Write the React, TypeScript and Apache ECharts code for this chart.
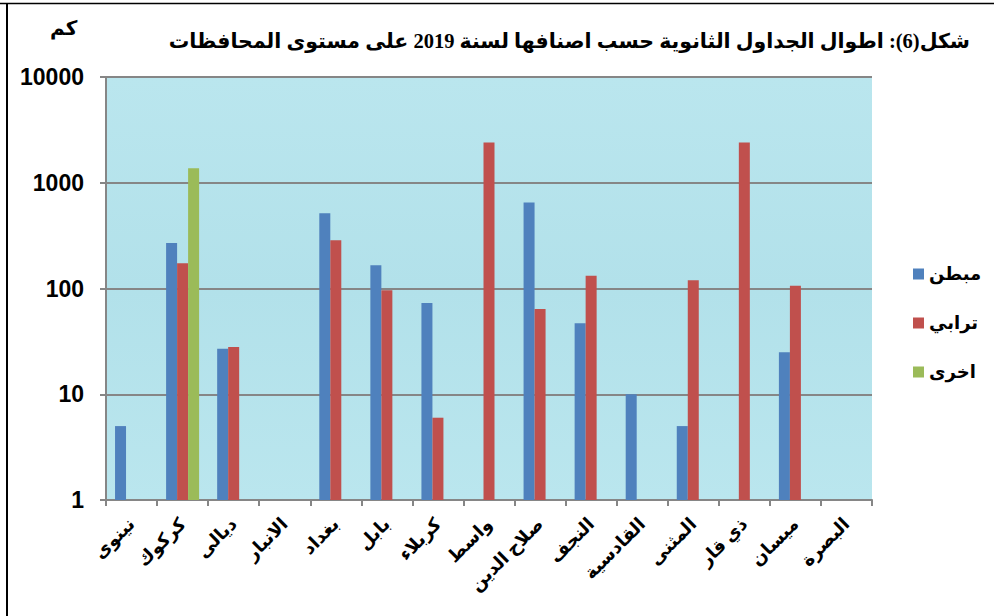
import React, { useEffect, useRef } from "react";
import * as echarts from "echarts";

const categories = ["نينوى", "كركوك", "ديالى", "الانبار", "بغداد", "بابل", "كربلاء", "واسط", "صلاح الدين", "النجف", "القادسية", "المثنى", "ذي قار", "ميسان", "البصرة"];
const lined = [5, 270, 27, null, 515, 166, 73, null, 650, 47, 10, 5, null, 25, null];
const earthen = [null, 173, 28, null, 286, 96, 6, 2400, 64, 132, null, 120, 2400, 106, null];
const other = [null, 1370, null, null, null, null, null, null, null, null, null, null, null, null, null];
const seriesNames = ["مبطن", "ترابي", "اخرى"];
const yTicks = [1, 10, 100, 1000, 10000];

export default function App() {
  const ref = useRef<HTMLDivElement>(null);
  useEffect(() => {
    document.body.style.margin = "0";
    const chart = echarts.init(ref.current!, null, { renderer: "svg" });
    const arabicFont = "'Liberation Serif', 'DejaVu Sans', serif";
    chart.setOption({
      animation: false,
      backgroundColor: "#ffffff",
      graphic: [
        { type: "line", shape: { x1: 0, y1: 3.5, x2: 994, y2: 3.5 }, style: { stroke: "#000", lineWidth: 1.5 }, z: 100 },
        { type: "line", shape: { x1: 7, y1: 3, x2: 7, y2: 616 }, style: { stroke: "#000", lineWidth: 2 }, z: 100 },
        { type: "text", right: 24, top: 30, style: { text: "شكل(6): اطوال الجداول الثانوية حسب اصنافها لسنة 2019 على مستوى المحافظات", font: "bold 20.5px " + arabicFont, fill: "#000" } },
        { type: "text", left: 50, top: 18, style: { text: "كم", font: "bold 20px " + arabicFont, fill: "#000" } },
      ],
      grid: {
        left: 106, right: 122, top: 77, bottom: 116, show: true, borderWidth: 0,
        backgroundColor: { type: "linear", x: 0, y: 0, x2: 0, y2: 1, colorStops: [{ offset: 0, color: "#bae6ee" }, { offset: 0.5, color: "#b2e1ea" }, { offset: 1, color: "#bae6ee" }] },
      },
      legend: {
        orient: "vertical", left: 908, top: 260, itemWidth: 11, itemHeight: 11, itemGap: 31, icon: "rect",
        textStyle: { fontFamily: arabicFont, fontWeight: "bold", fontSize: 18, color: "#000" },
        data: seriesNames,
      },
      xAxis: {
        type: "category", data: categories,
        axisLine: { lineStyle: { color: "#868686", width: 2 } },
        axisTick: { show: true, length: 6, lineStyle: { color: "#868686", width: 2 } },
        axisLabel: { interval: 0, rotate: 45, margin: 21, fontFamily: arabicFont, fontWeight: "bold", fontSize: 18, color: "#000" },
      },
      yAxis: {
        type: "log", logBase: 10, min: 1, max: 10000,
        axisLine: { show: true, lineStyle: { color: "#868686", width: 2 } },
        axisTick: { show: true, length: 6, lineStyle: { color: "#868686", width: 2 } },
        splitLine: { show: true, lineStyle: { color: "#868686", width: 2 } },
        axisLabel: { margin: 22, fontFamily: "'Liberation Sans', Arial, sans-serif", fontWeight: "bold", fontSize: 23, color: "#000", formatter: (v: number) => (yTicks.includes(Math.round(v)) ? String(Math.round(v)) : "") },
      },
      series: [
        { name: seriesNames[0], type: "bar", data: lined, barWidth: 11, barGap: "0%", itemStyle: { color: "#4f81bd" } },
        { name: seriesNames[1], type: "bar", data: earthen, barWidth: 11, barGap: "0%", itemStyle: { color: "#c0504d" } },
        { name: seriesNames[2], type: "bar", data: other, barWidth: 11, barGap: "0%", itemStyle: { color: "#9bbb59" } },
      ],
    });
    return () => chart.dispose();
  }, []);
  return <div ref={ref} style={{ width: 994, height: 616 }} />;
}
